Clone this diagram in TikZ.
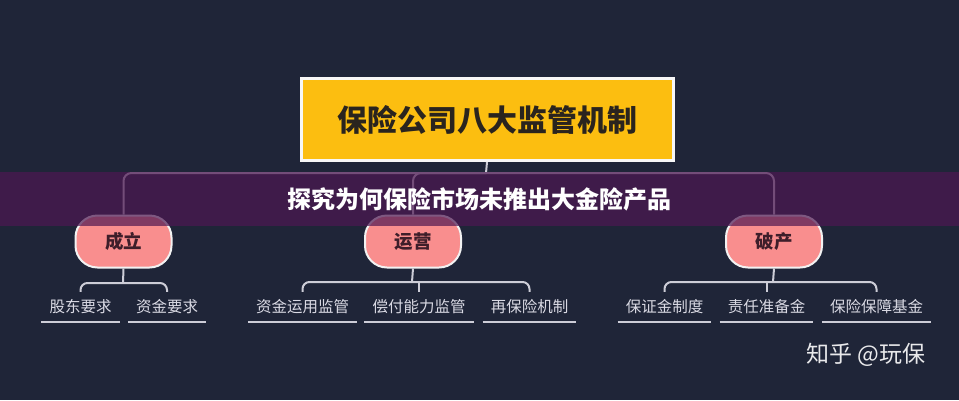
\documentclass[tikz,border=0pt]{standalone}
\usepackage{fontspec}
\newfontfamily\cjk{Noto Sans CJK SC}
\definecolor{navy}{RGB}{31,37,56}
\definecolor{band}{RGB}{78,23,82}
\definecolor{gold}{RGB}{252,190,16}
\definecolor{salmon}{RGB}{249,142,142}
\definecolor{ink}{RGB}{42,36,30}
\definecolor{wine}{RGB}{62,30,42}
\definecolor{linegray}{RGB}{205,205,215}
\definecolor{leafgray}{RGB}{218,218,228}
\tikzset{
  link/.style={draw=linegray, line width=2pt, rounded corners=8pt},
  headbox/.style={draw=white!94!gray, line width=3pt, fill=gold, minimum width=372pt, minimum height=82pt,
    font=\cjk\bfseries\fontsize{30}{30}\selectfont, text=ink},
  pill/.style={draw=white!90!gray, line width=2pt, fill=salmon, rounded corners=22pt,
    minimum width=96pt, minimum height=52pt, font=\cjk\bfseries\fontsize{18.5}{18.5}\selectfont, text=wine},
  leaf/.style={inner xsep=8pt, inner ysep=0pt, minimum height=30pt, text=leafgray,
    font=\cjk\fontsize{15.5}{15.5}\selectfont},
  uline/.style={draw=linegray, line width=2.5pt}
}
\begin{document}
\begin{tikzpicture}[x=1pt,y=-1pt]
\fill[navy] (0,0) rectangle (959,400);
\useasboundingbox (0,0) rectangle (959,400);
% top box and the three stages
\node[headbox] (head) at (487,119.5) {保险公司八大监管机制};
\node[pill] (p1) at (123.5,241.5) {成立};
\node[pill] (p2) at (413,241.5) {运营};
\node[pill] (p3) at (774,241.5) {破产};
\coordinate (bus) at (486,173);
\draw[link] (head.south) -- (bus);
\draw[link] (bus) -| (p1.north);
\draw[link] (bus) -| (p2.north);
\draw[link] (bus) -| (p3.north);
% banner over the tree
\fill[band, opacity=0.7] (0,172) rectangle (959,226);
\node[text=white, font=\cjk\bfseries\fontsize{24}{24}\selectfont] (title) at (479,199) {探究为何保险市场未推出大金险产品};
% leaves
\node[leaf] (l1) at (80.5,307) {股东要求};
\node[leaf] (l2) at (167,307) {资金要求};
\node[leaf] (l3) at (302.5,307) {资金运用监管};
\node[leaf] (l4) at (419,307) {偿付能力监管};
\node[leaf] (l5) at (529.5,307) {再保险机制};
\node[leaf] (l6) at (664.5,307) {保证金制度};
\node[leaf] (l7) at (766.5,307) {责任准备金};
\node[leaf] (l8) at (876.5,307) {保险保障基金};
\foreach \n in {l1,l2,l3,l4,l5,l6,l7,l8}
  \draw[uline] (\n.south west) -- (\n.south east);
\coordinate (b1) at (123,283);
\coordinate (b2) at (412,282);
\coordinate (b3) at (773,282);
\draw[link] (p1.south) -- (b1);
\draw[link] (p2.south) -- (b2);
\draw[link] (p3.south) -- (b3);
\draw[link,rounded corners=7pt] (l1.north) -- (l1.north |- b1) -- (l2.north |- b1) -- (l2.north);
\draw[link,rounded corners=7pt] (l3.north) -- (l3.north |- b2) -- (l5.north |- b2) -- (l5.north);
\draw[link] (l4.north |- b2) -- (l4.north);
\draw[link,rounded corners=7pt] (l6.north) -- (l6.north |- b3) -- (l8.north |- b3) -- (l8.north);
\draw[link] (l7.north |- b3) -- (l7.north);
% watermark
\node[text=white, opacity=0.9, font=\cjk\fontsize{23}{23}\selectfont] (mark) at (866,355) {知乎 @玩保};
\end{tikzpicture}
\end{document}
